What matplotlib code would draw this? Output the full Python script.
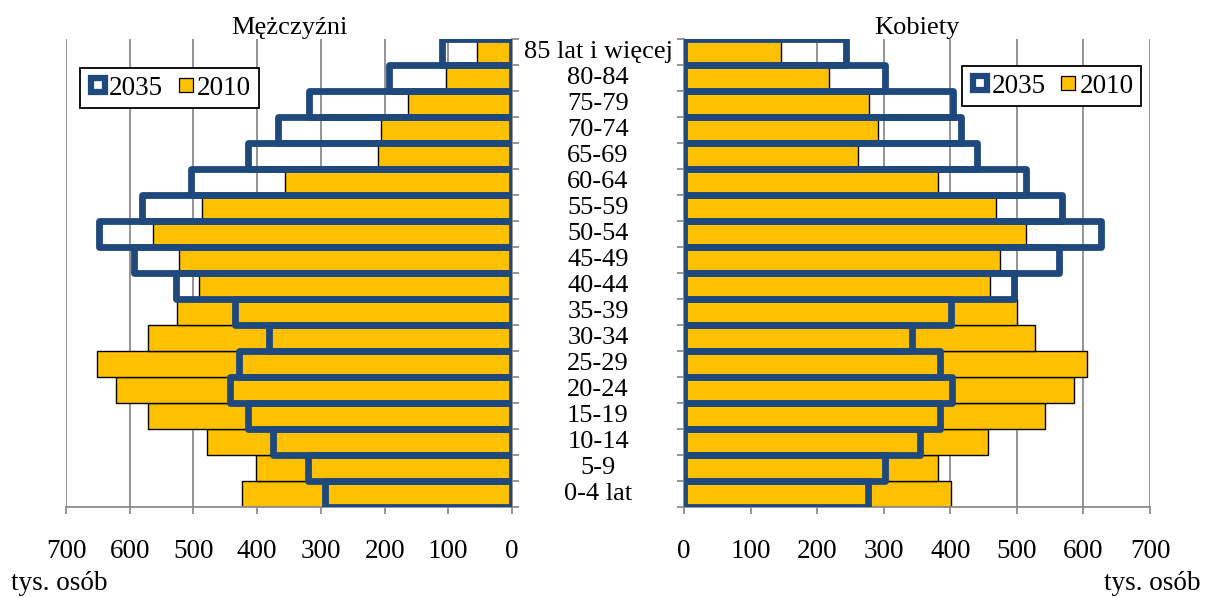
import numpy as np
import matplotlib
matplotlib.use("Agg")
import matplotlib.pyplot as plt
from matplotlib.lines import Line2D
from matplotlib.transforms import blended_transform_factory

plt.rcParams['font.family'] = ['Liberation Serif', 'DejaVu Serif']

# Age groups, bottom to top
age_groups = ["0-4 lat", "5-9", "10-14", "15-19", "20-24", "25-29", "30-34",
              "35-39", "40-44", "45-49", "50-54", "55-59", "60-64", "65-69",
              "70-74", "75-79", "80-84", "85 lat i więcej"]

# thousands of persons
men_2010 = [424, 402, 479, 572, 621, 651, 571, 526, 492, 522, 564, 487,
            356, 211, 206, 163, 103, 55]
men_2035 = [294, 320, 375, 415, 442, 429, 381, 435, 527, 593, 648, 581,
            504, 414, 368, 318, 193, 110]
women_2010 = [401, 382, 457, 543, 586, 605, 527, 500, 460, 475, 513, 468,
              381, 262, 292, 278, 218, 145]
women_2035 = [277, 302, 354, 385, 403, 384, 343, 401, 495, 564, 626, 568,
              514, 440, 416, 404, 302, 243]

x_ticks = [0, 100, 200, 300, 400, 500, 600, 700]

YELLOW = '#FFC000'
BLUE = '#1F497D'
GREY = '#8c8c8c'

W, H = 1205, 598
fig = plt.figure(figsize=(W / 100, H / 100), dpi=100)
axL = fig.add_axes([66 / W, 91 / H, 446 / W, 468 / H])
axR = fig.add_axes([684 / W, 91 / H, 466 / W, 468 / H])

y = np.arange(len(age_groups))

for ax, v10, v35 in ((axL, men_2010, men_2035), (axR, women_2010, women_2035)):
    ax.barh(y, v10, height=1.0, color=YELLOW, edgecolor='black', linewidth=1.0, zorder=2)
    bars = ax.barh(y, v35, height=1.0, fill=False, edgecolor=BLUE, linewidth=4.9, zorder=3)
    for b in bars:
        b.set_joinstyle('round')
    ax.set_ylim(-0.5, len(age_groups) - 0.5)
    ax.set_xticks(x_ticks)
    ax.set_xticklabels([str(t) for t in x_ticks])
    ax.set_yticks(np.arange(-0.5, len(age_groups), 1.0))
    ax.set_yticklabels([])
    ax.xaxis.grid(True, color=GREY, linewidth=1.3)
    ax.set_axisbelow(True)
    ax.tick_params(axis='x', length=5, width=1.3, color=GREY, labelsize=19.5, pad=18)
    ax.tick_params(axis='y', length=5, width=1.3, color=GREY)
    ax.spines['top'].set_visible(False)
    for s in ax.spines.values():
        s.set_color(GREY)
        s.set_linewidth(1.3)

axL.set_xlim(700, 0)
axR.set_xlim(0, 700)
axL.spines['left'].set_visible(False)
axL.yaxis.tick_right()
axR.spines['right'].set_visible(False)
axR.yaxis.tick_left()

axL.set_title("Mężczyźni", fontsize=19, pad=3)
axR.set_title("Kobiety", fontsize=19, pad=3)

tr = blended_transform_factory(fig.transFigure, axL.transData)
for yi, lab in zip(y, age_groups):
    axL.text(598 / W, yi, lab, transform=tr, ha='center', va='center',
             fontsize=19, clip_on=False)

fig.text(11 / W, 8 / H, "tys. osób", ha='left', va='baseline', fontsize=19.5)
fig.text(1200 / W, 8 / H, "tys. osób", ha='right', va='baseline', fontsize=19.5)

handles = [
    Line2D([], [], marker='s', linestyle='none', markerfacecolor='white',
           markeredgecolor=BLUE, markeredgewidth=4.5, markersize=10),
    Line2D([], [], marker='s', linestyle='none', markerfacecolor=YELLOW,
           markeredgecolor='black', markeredgewidth=0.9, markersize=9.5),
]
labels = ["2035", "2010"]
leg_kw = dict(ncol=2, fontsize=19.5, frameon=True, fancybox=False, framealpha=1,
              edgecolor='black', borderaxespad=0, handlelength=0.75,
              handletextpad=0.05, columnspacing=0.45, borderpad=0.28)
lgL = axL.legend(handles, labels, loc='upper left', bbox_to_anchor=(0.031, 0.938), **leg_kw)
lgR = axR.legend(handles, labels, loc='upper right', bbox_to_anchor=(0.981, 0.942), **leg_kw)
for lg in (lgL, lgR):
    lg.get_frame().set_linewidth(1.3)
    lg.set_zorder(5)

fig.savefig("out.png", dpi=100)
